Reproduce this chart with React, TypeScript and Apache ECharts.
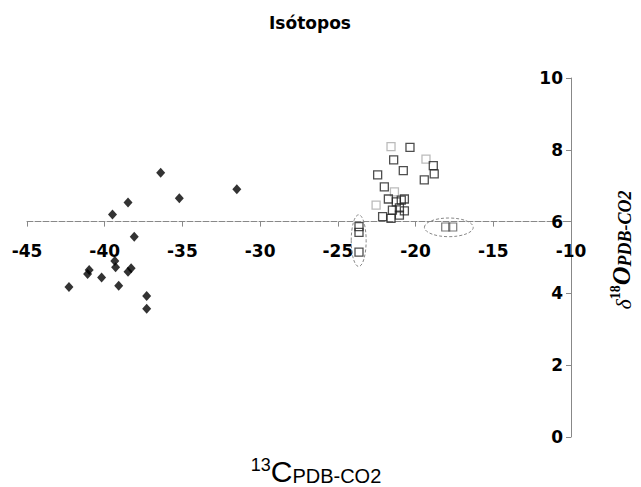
import React, { useEffect, useRef } from "react";
import * as echarts from "echarts";

const titleText = "Isótopos";

const xTicks = { min: -45, max: -10, interval: 5 };
const yTicks = { min: 0, max: 10, interval: 2 };
// x axis crosses the y axis at this value
const xAxisCrossY = 6;

const diamondX = [-36.4, -31.5, -35.2, -38.5, -39.5, -38.1, -39.35, -39.3, -41.0, -41.1, -38.3, -38.5, -40.2, -39.1, -42.3, -37.3, -37.3];
const diamondY = [7.36, 6.9, 6.65, 6.53, 6.2, 5.58, 4.9, 4.73, 4.65, 4.54, 4.7, 4.6, 4.44, 4.21, 4.18, 3.93, 3.57];

const squareX = [-20.36, -21.41, -20.79, -18.86, -18.8, -19.44, -22.44, -22.01, -21.75, -21.24, -20.92, -20.72, -21.49, -21.04, -20.72, -22.12, -21.58, -21.04, -23.64, -23.64, -23.64];
const squareY = [8.07, 7.72, 7.42, 7.56, 7.33, 7.16, 7.3, 6.97, 6.63, 6.55, 6.6, 6.63, 6.32, 6.38, 6.3, 6.14, 6.09, 6.18, 5.86, 5.7, 5.15];

const greySquareX = [-21.58, -19.33, -21.36, -22.54];
const greySquareY = [8.09, 7.74, 6.83, 6.46];

const midSquareX = [-18.06, -17.61];
const midSquareY = [5.85, 5.85];

const ellipseCX = [-23.66, -17.86];
const ellipseCY = [5.47, 5.84];
const ellipseRX = [0.48, 1.57];
const ellipseRY = [0.72, 0.26];

const zip = (a: number[], b: number[]) => a.map((v, i) => [v, b[i]]);

const W = 641;
const H = 487;
const GRID = { left: 27, right: 70, top: 78, bottom: 50 };

export default function App() {
  const ref = useRef<HTMLDivElement>(null);
  useEffect(() => {
    if (!ref.current) return;
    const chart = echarts.init(ref.current, null, { renderer: "svg" });
    const labelFont = {
      fontFamily: "DejaVu Sans",
      fontWeight: "bold" as const,
      fontSize: 17,
      color: "#000",
    };
    const gridH = H - GRID.top - GRID.bottom;
    const xOffset = -gridH * (xAxisCrossY - yTicks.min) / (yTicks.max - yTicks.min);
    chart.setOption({
      animation: false,
      backgroundColor: "#fff",
      grid: GRID,
      xAxis: {
        type: "value",
        min: xTicks.min,
        max: xTicks.max,
        interval: xTicks.interval,
        position: "bottom",
        offset: xOffset,
        axisLine: {
          onZero: false,
          lineStyle: { color: "#888", width: 1, type: [6, 2] },
        },
        axisTick: { show: true, length: 5, lineStyle: { color: "#888" } },
        axisLabel: { ...labelFont, margin: 21 },
        splitLine: { show: false },
      },
      yAxis: {
        type: "value",
        min: yTicks.min,
        max: yTicks.max,
        interval: yTicks.interval,
        position: "right",
        axisLine: { show: true, onZero: false, lineStyle: { color: "#888", width: 1 } },
        axisTick: { show: true, inside: true, length: 5, lineStyle: { color: "#888" } },
        axisLabel: { ...labelFont, inside: true, margin: 8 },
        splitLine: { show: false },
      },
      graphic: [
        {
          type: "text",
          x: 310,
          y: 23,
          style: {
            text: titleText,
            align: "center",
            verticalAlign: "middle",
            font: "bold 17px 'DejaVu Sans'",
            fill: "#000",
          },
        },
        {
          type: "text",
          x: 316,
          y: 471,
          style: {
            text: "{sup|13}{c|C}{sub|PDB-CO2}",
            align: "center",
            verticalAlign: "middle",
            fill: "#000",
            rich: {
              sup: { fontFamily: "Liberation Sans", fontSize: 18, lineHeight: 12, verticalAlign: "top", fill: "#000" },
              c: { fontFamily: "Liberation Sans", fontSize: 30, lineHeight: 30, verticalAlign: "bottom", fill: "#000" },
              sub: { fontFamily: "Liberation Sans", fontSize: 20, lineHeight: 20, verticalAlign: "bottom", fill: "#000" },
            },
          },
        },
        {
          type: "text",
          x: 621,
          y: 250,
          rotation: Math.PI / 2,
          style: {
            text: "{d|δ}{sup|18}{o|O}{sub|PDB-CO2}",
            align: "center",
            verticalAlign: "middle",
            fill: "#000",
            rich: {
              d: { fontFamily: "Liberation Serif", fontStyle: "italic", fontSize: 22, lineHeight: 26, verticalAlign: "bottom", fill: "#000" },
              sup: { fontFamily: "Liberation Serif", fontWeight: "bold", fontSize: 14, lineHeight: 12, verticalAlign: "top", fill: "#000" },
              o: { fontFamily: "Liberation Serif", fontWeight: "bold", fontStyle: "italic", fontSize: 26, lineHeight: 26, verticalAlign: "bottom", fill: "#000" },
              sub: { fontFamily: "Liberation Serif", fontWeight: "bold", fontStyle: "italic", fontSize: 18, lineHeight: 18, verticalAlign: "bottom", fill: "#000" },
            },
          },
        },
      ],
      series: [
        {
          type: "scatter",
          name: "diamonds",
          symbol: "diamond",
          symbolSize: [9, 10],
          itemStyle: { color: "#000" },
          data: zip(diamondX, diamondY),
        },
        {
          type: "scatter",
          name: "grey squares",
          symbol: "rect",
          symbolSize: 8,
          itemStyle: { color: "rgba(0,0,0,0)", borderColor: "#aaa", borderWidth: 1.3 },
          data: zip(greySquareX, greySquareY),
        },
        {
          type: "scatter",
          name: "squares",
          symbol: "rect",
          symbolSize: 8,
          itemStyle: { color: "rgba(0,0,0,0)", borderColor: "#222", borderWidth: 1.3 },
          data: zip(squareX, squareY),
        },
        {
          type: "scatter",
          name: "mid squares",
          symbol: "rect",
          symbolSize: 8,
          itemStyle: { color: "rgba(0,0,0,0)", borderColor: "#555", borderWidth: 1.2 },
          data: zip(midSquareX, midSquareY),
        },
        {
          type: "custom",
          name: "ellipses",
          silent: true,
          renderItem: (params: any, api: any) => {
            const c = api.coord([api.value(0), api.value(1)]);
            const s = api.size([api.value(2), api.value(3)]);
            return {
              type: "ellipse",
              shape: { cx: c[0], cy: c[1], rx: s[0], ry: s[1] },
              style: { fill: "none", stroke: "#888", lineWidth: 1, lineDash: [3, 2] },
            };
          },
          encode: { x: 0, y: 1 },
          data: ellipseCX.map((v, i) => [v, ellipseCY[i], ellipseRX[i], ellipseRY[i]]),
        },
      ],
    });
    return () => chart.dispose();
  }, []);
  return (
    <div
      ref={ref}
      style={{ position: "fixed", left: 0, top: 0, width: W, height: H, background: "#fff" }}
    />
  );
}
